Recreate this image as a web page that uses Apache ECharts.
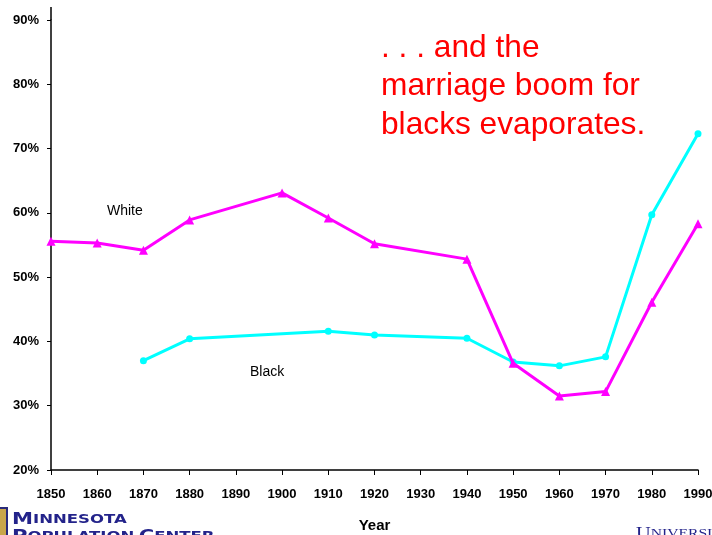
<!DOCTYPE html>
<html>
<head>
<meta charset="utf-8">
<script src="https://cdn.jsdelivr.net/npm/echarts@6/dist/echarts.min.js"></script>
<style>
  html, body { margin: 0; padding: 0; background: #fff; }
  #chart { width: 712px; height: 535px; }
</style>
</head>
<body>
<div id="chart"></div>
<script>
// Share of people (in %) by census year, white vs black
const whiteYears = [1850, 1860, 1870, 1880, 1900, 1910, 1920, 1940, 1950, 1960, 1970, 1980, 1990];
const whiteValues = [55.6, 55.3, 54.2, 58.9, 63.1, 59.2, 55.2, 52.8, 36.6, 31.5, 32.2, 46.1, 58.3];

const blackYears = [1870, 1880, 1910, 1920, 1940, 1950, 1960, 1970, 1980, 1990];
const blackValues = [37.0, 40.4, 41.6, 41.0, 40.5, 36.8, 36.2, 37.6, 59.7, 72.3];

const yTicks = [20, 30, 40, 50, 60, 70, 80, 90];
const xTicks = [1850, 1990];

const pairs = (xs, ys) => xs.map((x, i) => [x, ys[i]]);

const chart = echarts.init(document.getElementById('chart'), null, { renderer: 'canvas' });

const axisFont = {
  fontFamily: '"Liberation Sans", Arial, sans-serif',
  fontWeight: 'bold',
  fontSize: 13,
  color: '#000'
};

const navy = '#23238a';

chart.setOption({
  animation: false,
  backgroundColor: '#fff',
  grid: {
    left: 51, right: 14, top: 20, bottom: 65,
    containLabel: false,
    outerBoundsMode: 'none'
  },
  xAxis: {
    type: 'value',
    min: xTicks[0],
    max: xTicks[1],
    interval: 10,
    name: 'Year',
    nameLocation: 'middle',
    nameGap: 48,
    nameTextStyle: Object.assign({}, axisFont, { fontSize: 15 }),
    axisLine: { show: true, lineStyle: { color: '#000', width: 1.5 } },
    axisTick: { show: true, length: 5, lineStyle: { color: '#000', width: 1 } },
    axisLabel: Object.assign({}, axisFont, {
      margin: 18,
      formatter: v => String(v)
    }),
    splitLine: { show: false }
  },
  yAxis: {
    type: 'value',
    min: yTicks[0],
    max: yTicks[yTicks.length - 1],
    interval: 10,
    axisLine: { show: true, lineStyle: { color: '#000', width: 1.5 } },
    axisTick: { show: true, length: 4, lineStyle: { color: '#000', width: 1 } },
    axisLabel: Object.assign({}, axisFont, {
      margin: 12,
      formatter: v => v + '%'
    }),
    splitLine: { show: false }
  },
  series: [
    {
      name: 'White',
      type: 'line',
      data: pairs(whiteYears, whiteValues),
      symbol: 'triangle',
      symbolSize: 9,
      showAllSymbol: true,
      lineStyle: { color: '#ff00ff', width: 3 },
      itemStyle: { color: '#ff00ff', borderWidth: 0 },
      z: 3
    },
    {
      name: 'Black',
      type: 'line',
      data: pairs(blackYears, blackValues),
      symbol: 'circle',
      symbolSize: 7,
      showAllSymbol: true,
      lineStyle: { color: '#00ffff', width: 3 },
      itemStyle: { color: '#00ffff', borderWidth: 0 },
      z: 2
    }
  ],
  graphic: [
    // series labels
    {
      type: 'text', left: 107, top: 204,
      style: { text: 'White', font: '14px "Liberation Sans", Arial, sans-serif', fill: '#000' }
    },
    {
      type: 'text', left: 250, top: 365,
      style: { text: 'Black', font: '14px "Liberation Sans", Arial, sans-serif', fill: '#000' }
    },
    // headline note
    {
      type: 'text', left: 381, top: 29,
      style: {
        text: '. . . and the\nmarriage boom for\nblacks evaporates.',
        font: '31.7px "Liberation Sans", Arial, sans-serif',
        lineHeight: 38.5,
        fill: '#ff0000'
      }
    },
    // y axis line continues above the top tick
    {
      type: 'line',
      shape: { x1: 51, y1: 7, x2: 51, y2: 20 },
      style: { stroke: '#000', lineWidth: 1.5 }
    },
    // Minnesota Population Center logo
    {
      type: 'rect',
      shape: { x: -3, y: 508, width: 10, height: 30 },
      style: { fill: '#c9a64a', stroke: '#2a2a7a', lineWidth: 2 }
    },
    {
      type: 'text', x: 12, y: 511, scaleX: 1.32,
      style: {
        text: '{a|M}{b|INNESOTA}\n{a|P}{b|OPULATION} {a|C}{b|ENTER}',
        rich: {
          a: { fontFamily: '"DejaVu Sans", sans-serif', fontSize: 16, fontWeight: 'bold', fill: navy, lineHeight: 17 },
          b: { fontFamily: '"DejaVu Sans", sans-serif', fontSize: 12.5, fontWeight: 'bold', fill: navy, lineHeight: 17 }
        }
      }
    },
    {
      type: 'text', x: 636, y: 525, scaleX: 1.2,
      style: {
        text: '{a|U}{b|NIVERSITY}',
        rich: {
          a: { fontFamily: '"Liberation Serif", serif', fontSize: 17, fill: navy },
          b: { fontFamily: '"Liberation Serif", serif', fontSize: 13, fill: navy }
        }
      }
    }
  ]
});
</script>
</body>
</html>
